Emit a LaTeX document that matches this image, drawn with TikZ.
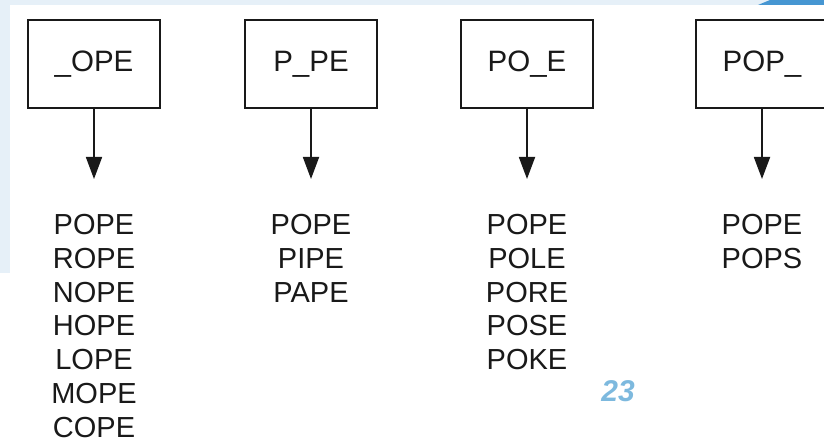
\documentclass[tikz,border=0pt]{standalone}
\usepackage{fontspec}
\setmainfont{Liberation Sans}
\usetikzlibrary{arrows.meta}
\definecolor{slideblue}{RGB}{230,240,248}
\definecolor{swoosh}{RGB}{70,150,210}
\definecolor{pagenum}{RGB}{125,185,222}
\definecolor{ink}{RGB}{25,25,25}
\begin{document}
\begin{tikzpicture}[x=1pt, y=-1pt,
  pattern/.style = {draw=ink, line width=1.8pt, minimum width=132pt, minimum height=88pt, font=\fontsize{29.5}{34}\selectfont, text=ink},
  words/.style = {anchor=north, align=center, inner sep=0pt, font=\fontsize{29}{33.8}\selectfont, text=ink},
  link/.style = {draw=ink, line width=1.8pt, shorten >=35pt, -{Triangle[width=16pt,length=22pt]}}]
\useasboundingbox (0,0) rectangle (824,443);
\fill[slideblue] (0,0) rectangle (824,5);
\fill[slideblue] (0,0) rectangle (10,273);
\fill[swoosh] (758,5) -- (770,0) -- (824,0) -- (824,5) -- cycle;
\node[pattern] (b1) at (94,64) {\_OPE};
\node[pattern] (b2) at (311,64) {P\_PE};
\node[pattern] (b3) at (527,64) {PO\_E};
\node[pattern] (b4) at (762,64) {POP\_};
\node[words] (l1) at (94,214) {POPE\\ROPE\\NOPE\\HOPE\\LOPE\\MOPE\\COPE};
\node[words] (l2) at (311,214) {POPE\\PIPE\\PAPE};
\node[words] (l3) at (527,214) {POPE\\POLE\\PORE\\POSE\\POKE};
\node[words] (l4) at (762,214) {POPE\\POPS};
\draw[link] (b1) -- (l1);
\draw[link] (b2) -- (l2);
\draw[link] (b3) -- (l3);
\draw[link] (b4) -- (l4);
\node[font=\fontsize{30}{30}\selectfont\bfseries\itshape, text=pagenum] (pg) at (618,391) {23};
\end{tikzpicture}
\end{document}
